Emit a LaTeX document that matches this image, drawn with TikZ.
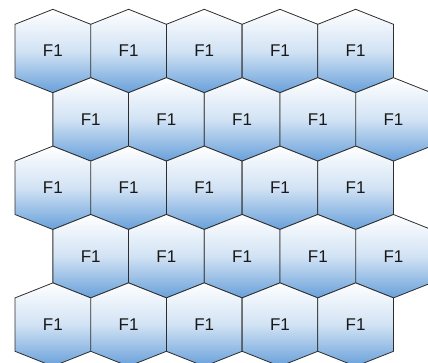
\documentclass[tikz,border=0pt]{standalone}
\usepackage{fontspec}
\setmainfont{Liberation Sans}
\definecolor{hexblue}{RGB}{104,160,218}
\definecolor{hexline}{RGB}{45,45,45}
\tikzset{
  hexcell/.style={top color=white, bottom color=hexblue, middle color=hexblue!30!white, draw=hexline, line width=0.8pt, line join=miter},
  hexlabel/.style={inner sep=0pt, font=\fontsize{17}{17}\selectfont, text=black!90}
}
\begin{document}
\begin{tikzpicture}[x=1pt,y=-1pt]
\useasboundingbox (0,0) rectangle (428,363);
\clip (0,0) rectangle (428,363);
\foreach \r in {0,...,4}{
  \foreach \c in {0,...,4}{
    \pgfmathsetmacro{\cy}{51+68.4*\r}
    \pgfmathsetmacro{\cx}{(mod(\r,2)==0 ? 52.85 : 90.7)+75.7*\c}
    \shade[hexcell] (\cx,\cy-41.7) -- (\cx+37.85,\cy-26.7) -- (\cx+37.85,\cy+26.7) -- (\cx,\cy+41.7) -- (\cx-37.85,\cy+26.7) -- (\cx-37.85,\cy-26.7) -- cycle;
    \node[hexlabel] (h-\r-\c) at (\cx,\cy) {F1};
  }
}
\end{tikzpicture}
\end{document}
